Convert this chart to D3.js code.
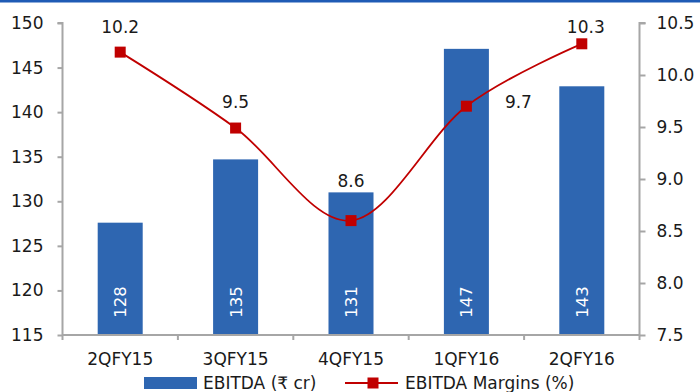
<!DOCTYPE html>
<html>
<head>
<meta charset="utf-8">
<script src="https://cdn.jsdelivr.net/npm/d3@7"></script>
<style>
  html, body { margin: 0; padding: 0; background: #fff; }
  svg { display: block; }
  text { font-family: "DejaVu Sans", sans-serif; fill: #1a1a1a; }
</style>
</head>
<body>
<svg id="chart" width="700" height="392"></svg>
<script>
// ---- data ----
const categories = ["2QFY15", "3QFY15", "4QFY15", "1QFY16", "2QFY16"];
const ebitda = [127.6, 134.7, 131.0, 147.1, 142.9];
const ebitdaLabels = ["128", "135", "131", "147", "143"];
const margins = [10.22, 9.49, 8.6, 9.7, 10.3];
const marginLabels = ["10.2", "9.5", "8.6", "9.7", "10.3"];
const leftTicks = [115, 120, 125, 130, 135, 140, 145, 150];
const rightTicks = [7.5, 8.0, 8.5, 9.0, 9.5, 10.0, 10.5];
const legendLabels = ["EBITDA (₹ cr)", "EBITDA Margins (%)"];

// ---- layout ----
const svg = d3.select("#chart");
const L = 62.5, R = 639.5, T = 23, B = 335;
const blue = "#2e66b1", red = "#c00000", axisCol = "#a6a6a6";

// top rule
svg.append("rect").attr("x", 0).attr("y", 0).attr("width", 700).attr("height", 2.5).attr("fill", "#1f5bb5");

const x = d3.scaleBand().domain(categories).range([L, R]).padding(0);
const yL = d3.scaleLinear().domain([115, 150]).range([B, T]);
const yR = d3.scaleLinear().domain([7.5, 10.5]).range([B, T]);
const barW = x.bandwidth() * 0.39;
const cx = c => x(c) + x.bandwidth() / 2;

// bars
svg.append("g").selectAll("rect").data(categories).join("rect")
  .attr("x", c => cx(c) - barW / 2)
  .attr("width", barW)
  .attr("y", (c, i) => yL(ebitda[i]))
  .attr("height", (c, i) => B - yL(ebitda[i]))
  .attr("fill", blue);

// bar labels (rotated)
svg.append("g").selectAll("text").data(categories).join("text")
  .attr("transform", c => `translate(${cx(c) + 6},${302}) rotate(-90)`)
  .attr("text-anchor", "middle")
  .style("font-size", "16.5px")
  .style("fill", "#fff")
  .text((c, i) => ebitdaLabels[i]);

// axes
const axL = d3.axisLeft(yL).tickValues(leftTicks).tickSize(5).tickPadding(14).tickFormat(d3.format("d"));
const gL = svg.append("g").attr("transform", `translate(${L},0)`).call(axL);
const axR = d3.axisRight(yR).tickValues(rightTicks).tickSize(6).tickPadding(11).tickFormat(d3.format(".1f"));
const gR = svg.append("g").attr("transform", `translate(${R},0)`).call(axR);
const axB = d3.axisBottom(x).tickSize(0).tickPadding(18);
const gB = svg.append("g").attr("transform", `translate(0,${B})`).call(axB);
[gL, gR, gB].forEach(g => {
  g.select(".domain").attr("stroke", axisCol).attr("stroke-width", 2);
  g.selectAll(".tick line").attr("stroke", axisCol).attr("stroke-width", 2);
  g.selectAll(".tick text").style("font-size", "17px").style("font-family", "DejaVu Sans").attr("fill", "#1a1a1a");
});
gL.select(".domain").attr("d", `M-5,${T}H0V${B}`);
gR.select(".domain").attr("d", `M6,${T}H0V${B}`);
gB.select(".domain").attr("d", `M${L},0H${R}`);
// category boundary ticks
const bounds = categories.map(c => x(c)).concat([R]);
gB.selectAll("line.bt").data(bounds).join("line").attr("class", "bt")
  .attr("x1", d => d).attr("x2", d => d).attr("y1", 0).attr("y2", 5)
  .attr("stroke", axisCol).attr("stroke-width", 2);

// line
const line = d3.line().x((d, i) => cx(categories[i])).y(d => yR(d)).curve(d3.curveCardinal.tension(0));
svg.append("path").datum(margins).attr("d", line)
  .attr("fill", "none").attr("stroke", red).attr("stroke-width", 1.8);
svg.append("g").selectAll("rect").data(margins).join("rect")
  .attr("x", (d, i) => cx(categories[i]) - 5.5)
  .attr("y", d => yR(d) - 5.5)
  .attr("width", 11).attr("height", 11).attr("fill", red);

// line labels (placement offsets relative to marker)
const labelPlace = [[0, -19.5], [0, -20], [0, -34], [52, 2], [4, -11]];
svg.append("g").selectAll("text").data(margins).join("text")
  .attr("x", (d, i) => cx(categories[i]) + labelPlace[i][0])
  .attr("y", (d, i) => yR(d) + labelPlace[i][1])
  .attr("text-anchor", "middle")
  .style("font-size", "17px")
  .text((d, i) => marginLabels[i]);

// legend
const lg = svg.append("g");
lg.append("rect").attr("x", 144).attr("y", 377).attr("width", 53).attr("height", 12).attr("fill", blue);
lg.append("text").attr("x", 203).attr("y", 389).style("font-size", "17px").text(legendLabels[0]);
lg.append("line").attr("x1", 345).attr("x2", 398).attr("y1", 383).attr("y2", 383).attr("stroke", red).attr("stroke-width", 1.8);
lg.append("rect").attr("x", 367.5).attr("y", 377.5).attr("width", 11).attr("height", 11).attr("fill", red);
lg.append("text").attr("x", 405).attr("y", 389).style("font-size", "17px").text(legendLabels[1]);
</script>
</body>
</html>
